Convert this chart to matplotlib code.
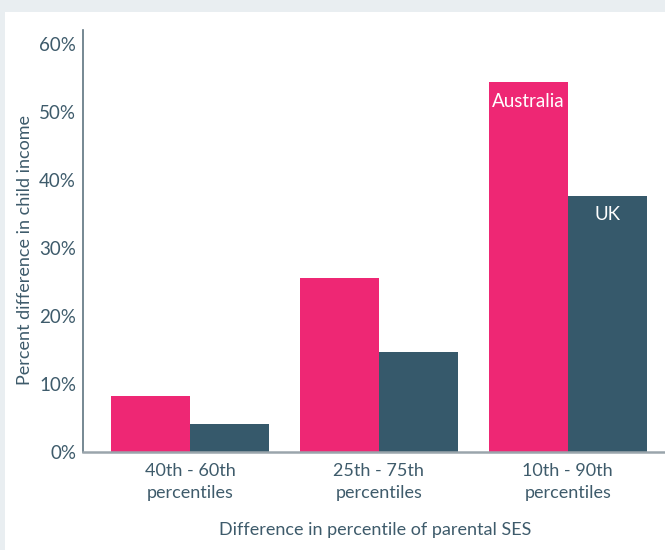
import matplotlib
matplotlib.use("Agg")
import matplotlib.pyplot as plt
from matplotlib.patches import Rectangle
import numpy as np

categories = ["40th - 60th\npercentiles", "25th - 75th\npercentiles", "10th - 90th\npercentiles"]
australia = [8.2, 25.6, 54.3]
uk = [4.1, 14.7, 37.6]
yticks = [0, 10, 20, 30, 40, 50, 60]
yticklabels = ["0%", "10%", "20%", "30%", "40%", "50%", "60%"]

PINK = "#EE2774"
TEAL = "#36596B"
TXT = "#3E5B6B"
plt.rcParams['font.family'] = ['Lato', 'DejaVu Sans']
FS = 13

fig = plt.figure(figsize=(6.65, 5.5), dpi=100, facecolor="#E9EEF1")
fig.patches.append(Rectangle((5/665, 0), 1, 1 - 12/550, transform=fig.transFigure,
                             facecolor="white", edgecolor="none", zorder=-10))
ax = fig.add_axes([83/665, 1 - 452/550, 1 - 83/665 + 0.01, (452 - 30)/550])
ax.set_facecolor("none")

x = np.arange(len(categories))
w = 0.418
ax.bar(x - w/2, australia, w, color=PINK, zorder=2)
ax.bar(x + w/2, uk, w, color=TEAL, zorder=2)

ax.set_xlim(-0.566, 2.55)
ax.set_ylim(0, 62)
ax.set_yticks(yticks)
ax.set_yticklabels(yticklabels, fontsize=13.5, color=TXT)
ax.set_xticks(x)
ax.set_xticklabels(categories, fontsize=FS, color=TXT, linespacing=1.45)
ax.tick_params(axis='both', length=0, pad=5)
ax.tick_params(axis='x', pad=8)
for s in ["top", "right"]:
    ax.spines[s].set_visible(False)
ax.spines["left"].set_color("#5F7480")
ax.spines["left"].set_linewidth(1.2)
ax.spines["bottom"].set_color("#9AA5AC")
ax.spines["bottom"].set_linewidth(1.8)

ax.text(x[2] - w/2, australia[2] - 1.5, "Australia", ha="center", va="top",
        color="white", fontsize=13.5)
ax.text(x[2] + w/2, uk[2] - 1.5, "UK", ha="center", va="top",
        color="white", fontsize=13.5)

fig.text(25/665, 1 - 250/550, "Percent difference in child income", rotation=90,
         ha="center", va="center", fontsize=FS, color=TXT)
fig.text(375/665, 1 - 530/550, "Difference in percentile of parental SES",
         ha="center", va="center", fontsize=FS, color=TXT)

fig.savefig("out.png", dpi=100, facecolor=fig.get_facecolor())
